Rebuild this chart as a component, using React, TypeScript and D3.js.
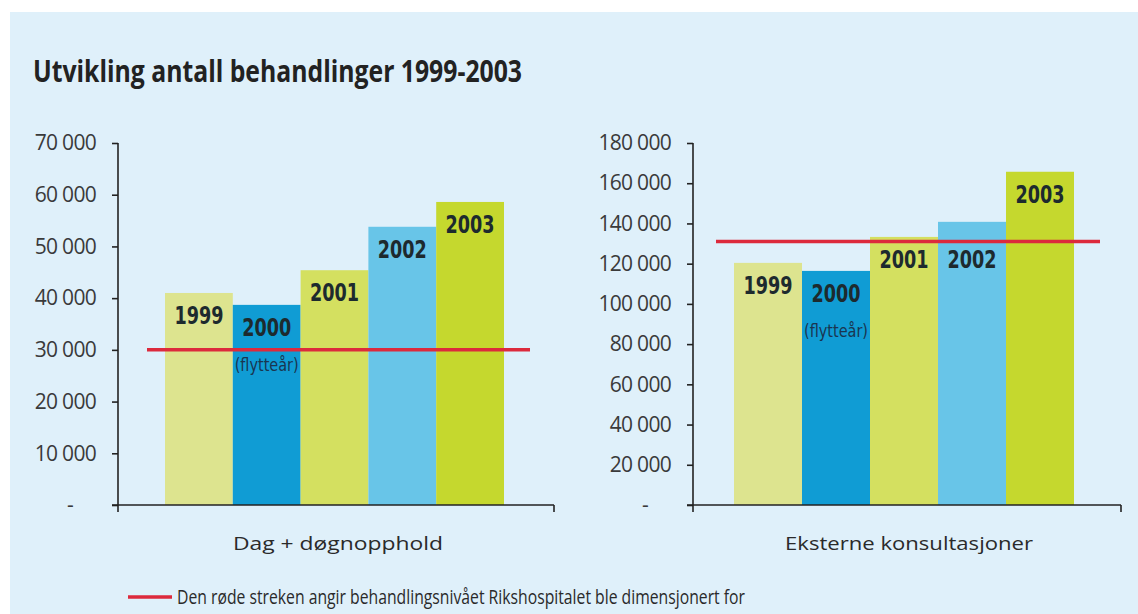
import React, { useEffect, useRef } from "react";
import * as d3 from "d3";

const years = ["1999", "2000", "2001", "2002", "2003"];
const dagValues = [41000, 38700, 45400, 53800, 58600];
const ekstValues = [120400, 116400, 133300, 140800, 165700];
const dagTicks = [0, 10000, 20000, 30000, 40000, 50000, 60000, 70000];
const ekstTicks = [0, 20000, 40000, 60000, 80000, 100000, 120000, 140000, 160000, 180000];
const dagTarget = 30000;
const ekstTarget = 131000;
const barColors = ["#dde48f", "#109cd4", "#d4e060", "#68c5e8", "#c5d82e"];
const movingYear = "2000";
const movingNote = "(flytteår)";
const title = "Utvikling antall behandlinger 1999-2003";
const dagLabel = "Dag + døgnopphold";
const ekstLabel = "Eksterne konsultasjoner";
const legendText = "Den røde streken angir behandlingsnivået Rikshospitalet ble dimensjonert for";

const W = 1138;
const H = 614;
const RED = "#dc2a3c";
const BG = "#dff0fa";
const AXIS = "#222";
const SANS = "'Open Sans', 'Noto Sans', sans-serif";
const NARROW = "'Liberation Sans Narrow', 'DejaVu Sans Condensed', 'Open Sans', sans-serif";

const fmt = (d: number) => (d === 0 ? "-" : d3.format(",")(d).replace(/,/g, " "));

type PanelProps = {
  values: number[];
  ticks: number[];
  max: number;
  target: number;
  axisX: number;
  barX0: number;
  barX1: number;
  axisEnd: number;
  label: string;
  labelWidth: number;
};

function Panel({ values, ticks, max, target, axisX, barX0, barX1, axisEnd, label, labelWidth }: PanelProps) {
  const axisRef = useRef<SVGGElement>(null);
  const y = d3.scaleLinear().domain([0, max]).range([505, 143]);
  const x = d3.scaleBand<string>().domain(years).range([barX0, barX1]).padding(0);

  useEffect(() => {
    if (!axisRef.current) return;
    const g = d3.select(axisRef.current);
    g.selectAll("*").remove();
    const axis = d3
      .axisLeft(y)
      .tickValues(ticks)
      .tickSize(6)
      .tickPadding(16)
      .tickFormat((d) => fmt(d as number));
    g.call(axis as any);
    g.select(".domain").remove();
    g.selectAll(".tick line").attr("stroke", AXIS).attr("stroke-width", 1.6);
    g.selectAll(".tick text")
      .attr("font-family", SANS)
      .attr("font-size", 21)
      .attr("fill", "#3a3a3a")
      .attr("letter-spacing", -0.7)
      .attr("dx", (d: any) => (d === 0 ? -23 : 0));
  }, []);

  const redY = y(target);
  return (
    <g>
      {values.map((v, i) => {
        const yr = years[i];
        const top = y(v);
        let cy = top + 23;
        if (Math.abs(cy - redY) < 14) cy = redY + 18;
        const cx = (x(yr) as number) + x.bandwidth() / 2;
        return (
          <g key={yr}>
            <rect x={x(yr)} y={top} width={x.bandwidth()} height={y(0) - top} fill={barColors[i]} />
            <text
              x={cx}
              y={cy + 8}
              textAnchor="middle"
              fontFamily={NARROW}
              fontWeight="bold"
              fontSize={24}
              fill="#1d2a2e"
              textLength={49}
              lengthAdjust="spacingAndGlyphs"
            >
              {yr}
            </text>
            {yr === movingYear && (
              <text
                x={cx}
                y={cy + 43}
                textAnchor="middle"
                fontFamily={NARROW}
                fontSize={18}
                fill="#1a3550"
                textLength={64}
                lengthAdjust="spacingAndGlyphs"
              >
                {movingNote}
              </text>
            )}
          </g>
        );
      })}
      <line x1={barX0 - 18} x2={barX1 + 26} y1={redY} y2={redY} stroke={RED} strokeWidth={3.5} />
      <g ref={axisRef} transform={`translate(${axisX},0)`} />
      <line x1={axisX} x2={axisX} y1={y(max)} y2={y(0) + 7} stroke={AXIS} strokeWidth={1.6} />
      <line x1={axisX - 6} x2={axisEnd} y1={y(0)} y2={y(0)} stroke={AXIS} strokeWidth={1.6} />
      <line x1={axisEnd} x2={axisEnd} y1={y(0)} y2={y(0) + 7} stroke={AXIS} strokeWidth={1.6} />
      <text
        x={(axisX + axisEnd) / 2 + 2}
        y={550}
        textAnchor="middle"
        fontFamily={SANS}
        fontSize={18}
        fill="#2a2a2a"
        textLength={labelWidth}
        lengthAdjust="spacingAndGlyphs"
      >
        {label}
      </text>
    </g>
  );
}

export default function App() {
  return (
    <svg
      width={W}
      height={H}
      style={{ position: "absolute", left: 0, top: 0, display: "block" }}
    >
      <rect x={0} y={0} width={W} height={H} fill="#ffffff" />
      <rect x={10} y={12} width={W - 10} height={H - 12} fill={BG} />
      <text
        x={33}
        y={82}
        fontFamily={SANS}
        fontWeight="bold"
        fontSize={31}
        fill="#222"
        textLength={489}
        lengthAdjust="spacingAndGlyphs"
      >
        {title}
      </text>
      <Panel
        values={dagValues}
        ticks={dagTicks}
        max={70000}
        target={dagTarget}
        axisX={118}
        barX0={165}
        barX1={504}
        axisEnd={554}
        label={dagLabel}
        labelWidth={210}
      />
      <Panel
        values={ekstValues}
        ticks={ekstTicks}
        max={180000}
        target={ekstTarget}
        axisX={693}
        barX0={734}
        barX1={1074}
        axisEnd={1121}
        label={ekstLabel}
        labelWidth={248}
      />
      <line x1={128} x2={172} y1={597} y2={597} stroke={RED} strokeWidth={3.5} />
      <text
        x={177}
        y={604}
        fontFamily={SANS}
        fontSize={20}
        fill="#2a2a2a"
        textLength={568}
        lengthAdjust="spacingAndGlyphs"
      >
        {legendText}
      </text>
    </svg>
  );
}
